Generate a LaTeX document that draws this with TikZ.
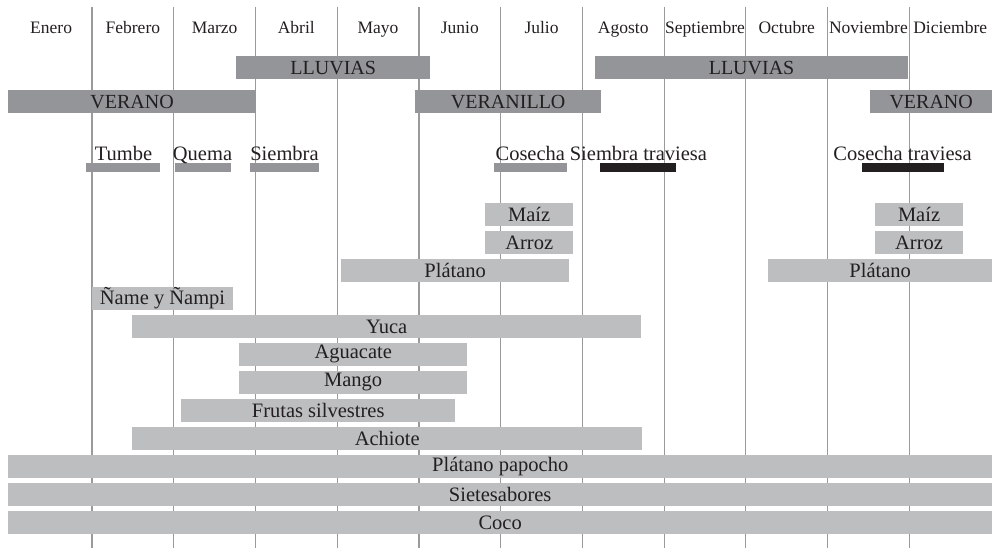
\documentclass[tikz,border=0pt]{standalone}
\usepackage{fontspec}
\setmainfont{Liberation Serif}
\definecolor{dgray}{HTML}{939598}
\definecolor{lgray}{HTML}{BCBEC0}
\definecolor{ink}{HTML}{231F20}
\definecolor{rulegray}{HTML}{9A9A9A}
\newcommand\cropbar[6]{\node[#1, minimum width={#3-#2}] (#6) at (#2,#4) {#5};}
\begin{document}
\begin{tikzpicture}[x=1pt,y=-1pt,
  season/.style={fill=dgray, inner sep=0pt, anchor=north west, minimum height=22.7pt,
    font=\fontsize{20}{20}\selectfont, text=ink},
  crop/.style={fill=lgray, inner sep=0pt, anchor=north west, minimum height=22.4pt,
    font=\fontsize{20.5}{21}\selectfont, text=ink},
  mlabel/.style={anchor=base, inner sep=0pt, font=\fontsize{17.5}{18}\selectfont, text=ink},
  tlabel/.style={anchor=base, inner sep=0pt, font=\fontsize{20.5}{21}\selectfont, text=ink},
  gstrip/.style={fill=dgray, inner sep=0pt, anchor=north west, minimum height=8.7pt},
  kstrip/.style={fill=ink, inner sep=0pt, anchor=north west, minimum height=8.7pt},
  monthrule/.style={draw=rulegray, line width=1.2pt}]
\useasboundingbox (0,0) rectangle (992,548);
% month rules
\foreach \i in {0,...,10} {
  \coordinate (rt\i) at ({92+81.73*\i},7);
  \coordinate (rb\i) at ({92+81.73*\i},548);
  \draw[monthrule] (rt\i) -- (rb\i);
}
% month labels
\foreach \m [count=\i from 0] in {Enero,Febrero,Marzo,Abril,Mayo,Junio,Julio,Agosto,Septiembre,Octubre,Noviembre,Diciembre} {
  \node[mlabel] (m\i) at ({92+81.73*(\i-0.5)},34) {\m};
}
% seasons
\cropbar{season}{236}{430}{56}{LLUVIAS}{lluvias1}
\cropbar{season}{595}{907.7}{56}{LLUVIAS}{lluvias2}
\cropbar{season}{8}{255.7}{90}{VERANO}{verano1}
\cropbar{season}{415}{601}{90}{VERANILLO}{veranillo}
\cropbar{season}{870}{992}{90}{VERANO}{verano2}
% activity strips
\cropbar{gstrip}{86}{160}{163}{}{sTumbe}
\cropbar{gstrip}{174.7}{230.7}{163}{}{sQuema}
\cropbar{gstrip}{250}{319}{163}{}{sSiembra}
\cropbar{gstrip}{494}{567}{163}{}{sCosecha}
\cropbar{kstrip}{600}{675.7}{163}{}{sSiembraT}
\cropbar{kstrip}{862}{944}{163}{}{sCosechaT}
\node[tlabel] (tTumbe) at (123.5,160.5) {Tumbe};
\node[tlabel] (tQuema) at (202.5,160.5) {Quema};
\node[tlabel] (tSiembra) at (284.5,160.5) {Siembra};
\node[tlabel] (tCosecha) at (530.3,160.5) {Cosecha};
\node[tlabel] (tSiembraT) at (638.4,160.5) {Siembra traviesa};
\node[tlabel] (tCosechaT) at (902.5,160.5) {Cosecha traviesa};
% crops
\cropbar{crop}{485}{573}{203}{Maíz}{maiz1}
\cropbar{crop}{875}{962.7}{203}{Maíz}{maiz2}
\cropbar{crop}{485}{573}{231}{Arroz}{arroz1}
\cropbar{crop}{875}{962.7}{231}{Arroz}{arroz2}
\cropbar{crop}{341}{569}{259}{Plátano}{platano1}
\cropbar{crop}{768}{992}{259}{Plátano}{platano2}
\cropbar{crop}{92}{232.7}{287}{Ñame y Ñampi}{name}
\cropbar{crop}{132}{641}{315}{Yuca}{yuca}
\cropbar{crop}{239}{467}{343}{Aguacate}{aguacate}
\cropbar{crop}{239}{467}{371}{Mango}{mango}
\cropbar{crop}{181}{455}{399}{Frutas silvestres}{frutas}
\cropbar{crop}{132}{642}{427}{Achiote}{achiote}
\cropbar{crop}{8}{992}{455}{Plátano papocho}{papocho}
\cropbar{crop}{8}{992}{483}{Sietesabores}{sietesabores}
\cropbar{crop}{8}{992}{511}{Coco}{coco}
\end{tikzpicture}
\end{document}
